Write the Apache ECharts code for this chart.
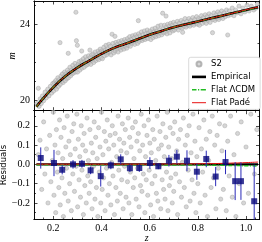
<!DOCTYPE html>
<html><head><meta charset="utf-8">
<script src="https://cdn.jsdelivr.net/npm/echarts@6/dist/echarts.min.js"></script>
<style>html,body{margin:0;padding:0;background:#fff}#c{width:262px;height:242px}</style>
</head><body><div id="c"></div>
<script>
// ---- data ----
const xTicksMajor = [0.2, 0.4, 0.6, 0.8, 1.0];
const xTicksMinor = [0.12,0.16,0.24,0.28,0.32,0.36,0.44,0.48,0.52,0.56,0.64,0.68,0.72,0.76,0.84,0.88,0.92,0.96,1.04];
const mTicksMajor = [20, 24];
const mTicksMinor = [21, 22, 23, 25];
const rTicksMajor = [-0.2, -0.1, 0.0, 0.1, 0.2];
const rTicksMinor = [-0.25, -0.15, -0.05, 0.05, 0.15, 0.25];

const zCurve = [0.13,0.15,0.2,0.25,0.3,0.35,0.4,0.45,0.5,0.55,0.6,0.65,0.7,0.75,0.8,0.85,0.9,0.95,1.0,1.05];
const mEmpirical = [19.68,20.0,20.7,21.28,21.73,22.1,22.45,22.75,22.98,23.22,23.45,23.65,23.85,24.0,24.15,24.3,24.45,24.6,24.75,24.89];
const mLCDM      = [19.68,20.0,20.7,21.28,21.73,22.1,22.45,22.75,22.98,23.22,23.45,23.65,23.85,24.0,24.15,24.3,24.45,24.6,24.74,24.88];
const mPade      = [19.68,20.0,20.7,21.28,21.73,22.1,22.45,22.75,22.98,23.22,23.45,23.65,23.85,24.0,24.15,24.3,24.45,24.6,24.76,24.9];

const zRes = [0.13,0.3,0.5,0.7,0.8,0.9,0.95,1.0,1.05];
const rEmpirical = [0,0,0,0,0,0,0,0,0];
const rLCDM = [-0.002,-0.002,-0.002,-0.003,-0.004,-0.005,-0.006,-0.007,-0.008];
const rPade = [0.001,0.001,0.001,0.002,0.003,0.005,0.007,0.009,0.012];

const zBin = [0.148,0.203,0.237,0.282,0.319,0.355,0.397,0.439,0.48,0.518,0.557,0.601,0.636,0.68,0.713,0.755,0.796,0.835,0.874,0.915,0.955,0.979,1.034];
const rBin = [0.033,0.007,-0.028,0.0,0.003,-0.031,-0.061,-0.005,0.026,-0.02,-0.019,0.007,-0.01,0.019,0.04,0.019,-0.038,0.028,-0.063,0.012,-0.087,-0.087,-0.191];
const eBin = [0.055,0.068,0.024,0.022,0.02,0.02,0.054,0.02,0.026,0.02,0.02,0.03,0.015,0.03,0.035,0.054,0.042,0.043,0.05,0.063,0.098,0.097,0.19];

const s2Top = [[0.132,19.85],[0.138,20.65],[0.141,19.7],[0.146,20.1],[0.15,19.85],[0.155,20.25],[0.16,20.0],[0.166,20.45],[0.171,20.15],[0.177,20.6],[0.182,20.25],[0.188,20.75],[0.193,20.4],[0.198,20.9],
[0.201,20.5],[0.204,20.95],[0.207,20.7],[0.21,21.05],[0.213,20.6],[0.216,20.95],[0.219,21.2],[0.222,20.75],[0.225,21.1],[0.228,23.04],[0.229,20.85],[0.232,21.3],[0.235,21.0],[0.238,21.4],[0.241,20.95],[0.244,21.25],[0.247,21.5],[0.25,21.05],[0.253,21.4],[0.256,21.15],[0.259,21.6],[0.262,22.48],[0.263,21.2],[0.266,21.5],[0.269,21.75],[0.272,21.3],[0.275,21.6],[0.278,21.4],[0.281,21.85],[0.284,21.45],[0.287,21.7],[0.29,21.95],[0.293,21.5],[0.294,24.63],[0.296,23.14],[0.297,21.8],
[0.3,22.9],[0.301,21.5],[0.304,21.9],[0.307,22.05],[0.31,21.6],[0.313,21.85],[0.316,22.1],[0.318,22.6],[0.319,21.7],[0.322,22.0],[0.325,22.2],[0.328,21.75],[0.331,22.05],[0.334,22.3],[0.337,21.85],[0.34,22.15],[0.343,21.9],[0.346,22.35],[0.349,22.0],[0.352,22.65],[0.353,22.25],[0.356,21.9],[0.359,22.4],[0.362,22.1],[0.365,22.45],[0.368,22.0],[0.371,22.3],[0.374,22.55],[0.377,22.1],[0.38,22.4],[0.383,22.2],[0.386,22.6],[0.389,22.15],[0.392,22.5],[0.395,22.7],[0.398,22.25],
[0.401,22.6],[0.404,22.2],[0.407,22.55],[0.41,22.8],[0.413,22.35],[0.416,22.65],[0.419,22.9],[0.422,22.4],[0.425,22.7],[0.428,22.5],[0.431,22.95],[0.434,22.55],[0.437,22.85],[0.44,22.4],[0.444,23.48],[0.445,22.7],[0.448,23.0],[0.451,22.5],[0.454,22.85],[0.456,23.37],[0.457,22.6],[0.46,23.05],[0.463,22.7],[0.466,22.95],[0.469,22.55],[0.472,23.1],[0.475,22.75],[0.478,23.0],[0.481,22.65],[0.484,23.15],[0.487,22.8],[0.49,23.05],[0.493,22.7],[0.496,23.2],[0.499,22.85],
[0.502,23.1],[0.505,22.75],[0.508,23.25],[0.511,22.9],[0.514,23.15],[0.517,23.35],[0.52,22.85],[0.523,23.2],[0.526,23.0],[0.529,23.4],[0.532,23.05],[0.535,23.3],[0.538,22.95],[0.541,23.45],[0.544,23.15],[0.547,23.35],[0.55,23.0],[0.553,24.19],[0.554,23.5],[0.557,23.1],[0.56,23.4],[0.563,23.2],[0.566,23.6],[0.569,23.15],[0.572,23.45],[0.575,23.25],[0.578,23.65],[0.581,23.2],[0.584,23.5],[0.587,23.3],[0.59,23.7],[0.593,23.25],[0.596,23.55],[0.599,23.4],
[0.602,23.65],[0.605,23.2],[0.608,23.5],[0.611,23.75],[0.614,23.3],[0.617,23.6],[0.62,23.4],[0.623,23.8],[0.626,23.35],[0.629,23.65],[0.632,23.5],[0.635,23.9],[0.638,23.4],[0.641,23.7],[0.644,23.55],[0.647,23.95],[0.65,23.45],[0.654,24.58],[0.656,23.75],[0.659,23.55],[0.662,23.95],[0.665,23.6],[0.668,24.43],[0.669,23.85],[0.672,23.5],[0.675,24.0],[0.678,23.7],[0.681,23.9],[0.684,23.55],[0.687,24.05],[0.69,23.75],[0.693,23.95],[0.696,23.65],[0.699,24.1],
[0.703,23.7],[0.707,24.0],[0.711,23.8],[0.715,24.15],[0.719,23.7],[0.723,24.05],[0.727,23.85],[0.731,24.2],[0.735,23.8],[0.737,23.58],[0.739,24.1],[0.743,23.9],[0.747,24.3],[0.751,23.85],[0.755,24.15],[0.759,23.95],[0.763,24.3],[0.767,23.9],[0.771,24.2],[0.775,24.0],[0.779,24.35],[0.783,23.95],[0.787,24.25],[0.791,24.05],[0.795,24.4],[0.799,24.0],
[0.803,24.3],[0.807,23.95],[0.811,24.25],[0.815,24.45],[0.819,24.05],[0.823,24.35],[0.827,24.15],[0.831,24.5],[0.835,24.05],[0.839,24.4],[0.843,24.2],[0.847,24.55],[0.851,24.1],[0.855,24.45],[0.861,23.56],[0.863,24.25],[0.867,24.6],[0.871,24.2],[0.875,24.5],[0.879,24.3],[0.883,24.65],[0.887,24.25],[0.891,24.55],[0.895,24.35],[0.899,24.7],
[0.904,24.3],[0.909,24.6],[0.914,24.4],[0.919,24.75],[0.924,23.44],[0.926,24.45],[0.931,24.7],[0.937,24.5],[0.943,24.85],[0.95,24.45],[0.957,24.75],[0.964,24.6],[0.971,24.95],[0.979,24.55],[0.987,24.85],[0.995,24.65],[1.004,25.0],[1.013,24.7],[1.022,24.95],[1.032,24.75],[1.041,24.84],[1.047,25.05]];

const s2Res = [[0.138,0.05],[0.145,0.125],[0.152,-0.13],[0.16,0.22],[0.165,-0.05],[0.172,0.08],[0.178,-0.2],[0.185,0.15],[0.19,-0.09],[0.196,0.02],
[0.2,0.27],[0.203,-0.16],[0.207,0.1],[0.21,-0.25],[0.213,0.18],[0.217,-0.04],[0.22,0.06],[0.223,-0.12],[0.226,0.23],[0.229,-0.21],[0.232,0.14],[0.236,-0.07],[0.239,0.03],[0.242,-0.27],[0.245,0.19],[0.248,-0.15],[0.252,0.09],[0.255,-0.02],[0.258,0.25],[0.262,-0.19],[0.265,0.12],[0.268,-0.1],[0.271,0.05],[0.275,-0.24],[0.278,0.17],[0.281,-0.05],[0.285,0.21],[0.288,-0.14],[0.291,0.08],[0.295,-0.01],[0.298,0.26],
[0.301,-0.22],[0.304,0.13],[0.307,-0.08],[0.31,0.04],[0.313,-0.17],[0.316,0.2],[0.319,-0.03],[0.322,0.1],[0.325,-0.26],[0.328,0.16],[0.331,-0.11],[0.334,0.07],[0.337,-0.2],[0.34,0.24],[0.343,-0.06],[0.346,0.02],[0.349,-0.15],[0.352,0.18],[0.355,-0.09],[0.358,0.11],[0.361,-0.23],[0.364,0.06],[0.367,-0.01],[0.37,0.22],[0.373,-0.18],[0.376,0.14],[0.379,-0.12],[0.382,0.03],[0.385,-0.27],[0.388,0.19],[0.391,-0.04],[0.394,0.09],[0.397,-0.2],[0.4,0.27],
[0.403,-0.13],[0.406,0.05],[0.409,-0.07],[0.412,0.17],[0.415,-0.24],[0.418,0.12],[0.421,-0.02],[0.424,0.23],[0.427,-0.16],[0.43,0.08],[0.433,-0.1],[0.436,0.15],[0.439,-0.21],[0.442,0.01],[0.445,0.2],[0.448,-0.06],[0.451,0.1],[0.454,-0.26],[0.457,0.16],[0.46,-0.12],[0.463,0.04],[0.466,-0.19],[0.469,0.25],[0.472,-0.03],[0.475,0.13],[0.478,-0.15],[0.481,0.07],[0.484,-0.08],[0.487,0.21],[0.49,-0.23],[0.493,0.11],[0.496,-0.01],[0.499,0.18],
[0.502,-0.17],[0.505,0.06],[0.508,-0.09],[0.511,0.24],[0.514,-0.2],[0.517,0.14],[0.52,-0.04],[0.523,0.09],[0.526,-0.26],[0.529,0.19],[0.532,-0.12],[0.535,0.03],[0.538,-0.07],[0.541,0.22],[0.544,-0.18],[0.547,0.12],[0.55,-0.02],[0.553,0.16],[0.556,-0.22],[0.559,0.07],[0.562,-0.11],[0.565,0.26],[0.568,-0.14],[0.571,0.1],[0.574,-0.05],[0.577,0.2],[0.58,-0.25],[0.583,0.04],[0.586,-0.08],[0.589,0.15],[0.592,-0.16],[0.595,0.23],[0.598,-0.03],
[0.601,0.11],[0.604,-0.21],[0.607,0.06],[0.61,-0.1],[0.613,0.18],[0.616,-0.27],[0.619,0.13],[0.622,-0.06],[0.625,0.02],[0.628,-0.15],[0.631,0.25],[0.634,-0.19],[0.637,0.08],[0.64,-0.01],[0.643,0.17],[0.646,-0.23],[0.649,0.1],[0.652,-0.08],[0.655,0.21],[0.658,-0.13],[0.661,0.04],[0.664,-0.18],[0.667,0.14],[0.67,-0.04],[0.673,0.27],[0.676,-0.24],[0.679,0.09],[0.682,-0.11],[0.685,0.19],[0.688,-0.07],[0.691,0.03],[0.694,-0.2],[0.697,0.16],
[0.7,-0.14],[0.704,0.22],[0.708,-0.05],[0.712,0.07],[0.716,-0.26],[0.72,0.13],[0.724,-0.09],[0.728,0.18],[0.732,-0.17],[0.736,0.01],[0.74,0.24],[0.744,-0.12],[0.748,0.1],[0.752,-0.22],[0.756,0.15],[0.76,-0.03],[0.764,0.2],[0.768,-0.19],[0.772,0.06],[0.776,-0.08],[0.78,0.26],[0.784,-0.15],[0.788,0.12],[0.792,-0.25],[0.796,0.04],
[0.8,-0.1],[0.805,0.19],[0.81,-0.2],[0.815,0.08],[0.82,-0.04],[0.825,0.23],[0.83,-0.16],[0.835,0.13],[0.84,-0.27],[0.845,0.02],[0.85,0.17],[0.855,-0.12],[0.86,0.25],[0.865,-0.07],[0.87,0.1],[0.875,-0.23],[0.88,0.15],[0.885,-0.02],[0.89,0.21],[0.895,-0.18],
[0.9,0.07],[0.906,-0.13],[0.912,0.2],[0.918,-0.24],[0.924,0.12],[0.93,-0.06],[0.936,0.25],[0.943,-0.17],[0.95,0.05],[0.958,-0.27],[0.965,0.16],[0.972,-0.1],[0.98,0.22],[0.99,-0.2],[1.0,0.09],[1.01,-0.15],[1.02,0.26],[1.035,-0.05],[1.045,0.18]];

// ---- chart ----
const X_MIN = 0.12, X_MAX = 1.056;
const M_MIN = 19.476, M_MAX = 25.22;
const R_MIN = -0.2856, R_MAX = 0.278;
const SERIF = 'Liberation Serif';
const SANS = 'DejaVu Sans';

function fmtNum(v) { const s = Math.abs(v).toFixed(1); return v < -1e-9 ? '\u2212' + s : s; }

function axis(grid, pos, min, max, ticks, len, labels, fmt, extra) {
  return Object.assign({
    type: 'value', gridIndex: grid, position: pos, min: min, max: max,
    axisLine: { show: true, onZero: false, lineStyle: { color: '#000', width: 0.8 } },
    axisTick: { show: true, inside: true, length: len, customValues: ticks, lineStyle: { color: '#000', width: 0.7 } },
    axisLabel: labels ? { show: true, customValues: labels, formatter: fmt, fontFamily: SERIF, fontSize: 10, color: '#000', margin: 4 } : { show: false },
    splitLine: { show: false }
  }, extra || {});
}

const xAxes = [
  axis(0, 'bottom', X_MIN, X_MAX, xTicksMajor, 3.5),
  axis(0, 'bottom', X_MIN, X_MAX, xTicksMinor, 2),
  axis(0, 'top', X_MIN, X_MAX, xTicksMajor, 3.5),
  axis(0, 'top', X_MIN, X_MAX, xTicksMinor, 2),
  axis(1, 'bottom', X_MIN, X_MAX, xTicksMajor, 3.5, xTicksMajor, fmtNum,
       { name: 'z', nameLocation: 'middle', nameGap: 14, nameMoveOverlap: false, nameTextStyle: { fontFamily: SERIF, fontStyle: 'italic', fontSize: 10, color: '#000' } }),
  axis(1, 'bottom', X_MIN, X_MAX, xTicksMinor, 2),
  axis(1, 'top', X_MIN, X_MAX, xTicksMajor, 3.5),
  axis(1, 'top', X_MIN, X_MAX, xTicksMinor, 2)
];
const yAxes = [
  axis(0, 'left', M_MIN, M_MAX, mTicksMajor, 3.5, mTicksMajor, v => String(v),
       { name: 'm', nameLocation: 'middle', nameGap: 17, nameMoveOverlap: false, nameTextStyle: { fontFamily: SERIF, fontStyle: 'italic', fontSize: 10, color: '#000' } }),
  axis(0, 'left', M_MIN, M_MAX, mTicksMinor, 2),
  axis(0, 'right', M_MIN, M_MAX, mTicksMajor, 3.5),
  axis(0, 'right', M_MIN, M_MAX, mTicksMinor, 2),
  axis(1, 'left', R_MIN, R_MAX, rTicksMajor, 3.5, rTicksMajor, fmtNum,
       { name: 'Residuals', nameLocation: 'middle', nameGap: 25.5, nameMoveOverlap: false, nameTextStyle: { fontFamily: SANS, fontSize: 8.5, color: '#000' } }),
  axis(1, 'left', R_MIN, R_MAX, rTicksMinor, 2),
  axis(1, 'right', R_MIN, R_MAX, rTicksMajor, 3.5),
  axis(1, 'right', R_MIN, R_MAX, rTicksMinor, 2)
];

const pairs = (xs, ys) => xs.map((x, i) => [x, ys[i]]);
const grey = { color: 'rgba(195,195,195,0.85)', borderColor: '#a5a5a5', borderWidth: 0.6 };
const GREEN = '#22bb22', RED = '#e81010';

const option = {
  animation: false,
  backgroundColor: '#fff',
  grid: [
    { left: 34, right: 2.5, top: 1, height: 109.7, containLabel: false, outerBoundsMode: 'none' },
    { left: 34, right: 2.5, top: 110.7, height: 108.8, containLabel: false, outerBoundsMode: 'none' }
  ],
  xAxis: xAxes,
  yAxis: yAxes,
  legend: {
    data: [
      { name: 'S2', icon: 'circle' },
      { name: 'Empirical', icon: 'path://M0,0h14v2.6h-14z' },
      { name: 'Flat ΛCDM', icon: 'path://M0,0h4.5v1.5h-4.5z M6,0h1.2v1.5h-1.2z M8.7,0h4.5v1.5h-4.5z M13.3,0h0.7v1.5h-0.7z' },
      { name: 'Flat Padé', icon: 'path://M0,0h14v1h-14z' }
    ],
    orient: 'vertical', left: 188.7, top: 57.3,
    padding: [2.2, 5, 2.2, 3.3],
    itemWidth: 14, itemHeight: 5, itemGap: 3.9,
    backgroundColor: '#fff', borderColor: '#cfcfcf', borderWidth: 0.8, borderRadius: 2,
    textStyle: { fontFamily: SANS, fontSize: 8.5, color: '#000' }
  },
  series: [
    { name: 'S2', type: 'scatter', xAxisIndex: 0, yAxisIndex: 0, data: s2Top, symbol: 'circle', symbolSize: 4.2, itemStyle: grey, z: 1 },
    { name: 'Empirical', type: 'line', xAxisIndex: 0, yAxisIndex: 0, data: pairs(zCurve, mEmpirical), smooth: true, showSymbol: false, symbol: 'none', lineStyle: { color: '#000', width: 2.6 }, itemStyle: { color: '#000' }, z: 3 },
    { name: 'Flat ΛCDM', type: 'line', xAxisIndex: 0, yAxisIndex: 0, data: pairs(zCurve, mLCDM), smooth: true, showSymbol: false, symbol: 'none', lineStyle: { color: GREEN, width: 1.5, type: [4, 1.5, 1, 1.5] }, itemStyle: { color: GREEN }, z: 4 },
    { name: 'Flat Padé', type: 'line', xAxisIndex: 0, yAxisIndex: 0, data: pairs(zCurve, mPade), smooth: true, showSymbol: false, symbol: 'none', lineStyle: { color: RED, width: 1 }, itemStyle: { color: RED }, z: 5 },

    { name: 'S2', type: 'scatter', xAxisIndex: 4, yAxisIndex: 4, data: s2Res, symbol: 'circle', symbolSize: 4.2, itemStyle: grey, z: 1 },
    { name: 'Empirical', type: 'line', xAxisIndex: 4, yAxisIndex: 4, data: pairs(zRes, rEmpirical), showSymbol: false, symbol: 'none', lineStyle: { color: '#000', width: 2.2 }, itemStyle: { color: '#000' }, z: 3 },
    { name: 'Flat ΛCDM', type: 'line', xAxisIndex: 4, yAxisIndex: 4, data: pairs(zRes, rLCDM), smooth: true, showSymbol: false, symbol: 'none', lineStyle: { color: GREEN, width: 1.5, type: [4, 1.5, 1, 1.5] }, itemStyle: { color: GREEN }, z: 4 },
    { name: 'Flat Padé', type: 'line', xAxisIndex: 4, yAxisIndex: 4, data: pairs(zRes, rPade), smooth: true, showSymbol: false, symbol: 'none', lineStyle: { color: RED, width: 1 }, itemStyle: { color: RED }, z: 5 },
    { name: 'binned-err', type: 'custom', xAxisIndex: 4, yAxisIndex: 4, z: 6,
      data: zBin.map((z, i) => [z, rBin[i], eBin[i]]),
      renderItem: function (params, api) {
        const cs = params.coordSys;
        const z = api.value(0), r = api.value(1), e = api.value(2);
        const p1 = api.coord([z, r + e]);
        const p2 = api.coord([z, r - e]);
        const y1 = Math.max(cs.y, p1[1]);
        const y2 = Math.min(cs.y + cs.height, p2[1]);
        return { type: 'line', shape: { x1: p1[0], y1: y1, x2: p2[0], y2: y2 }, style: { stroke: '#2a2ab8', lineWidth: 1 } };
      }
    },
    { name: 'binned', type: 'scatter', xAxisIndex: 4, yAxisIndex: 4, data: pairs(zBin, rBin), symbol: 'rect', symbolSize: 6, itemStyle: { color: '#06067a' }, z: 7 }
  ]
};

const chart = echarts.init(document.getElementById('c'), null, { renderer: 'canvas' });
chart.setOption(option);
</script>
</body></html>
